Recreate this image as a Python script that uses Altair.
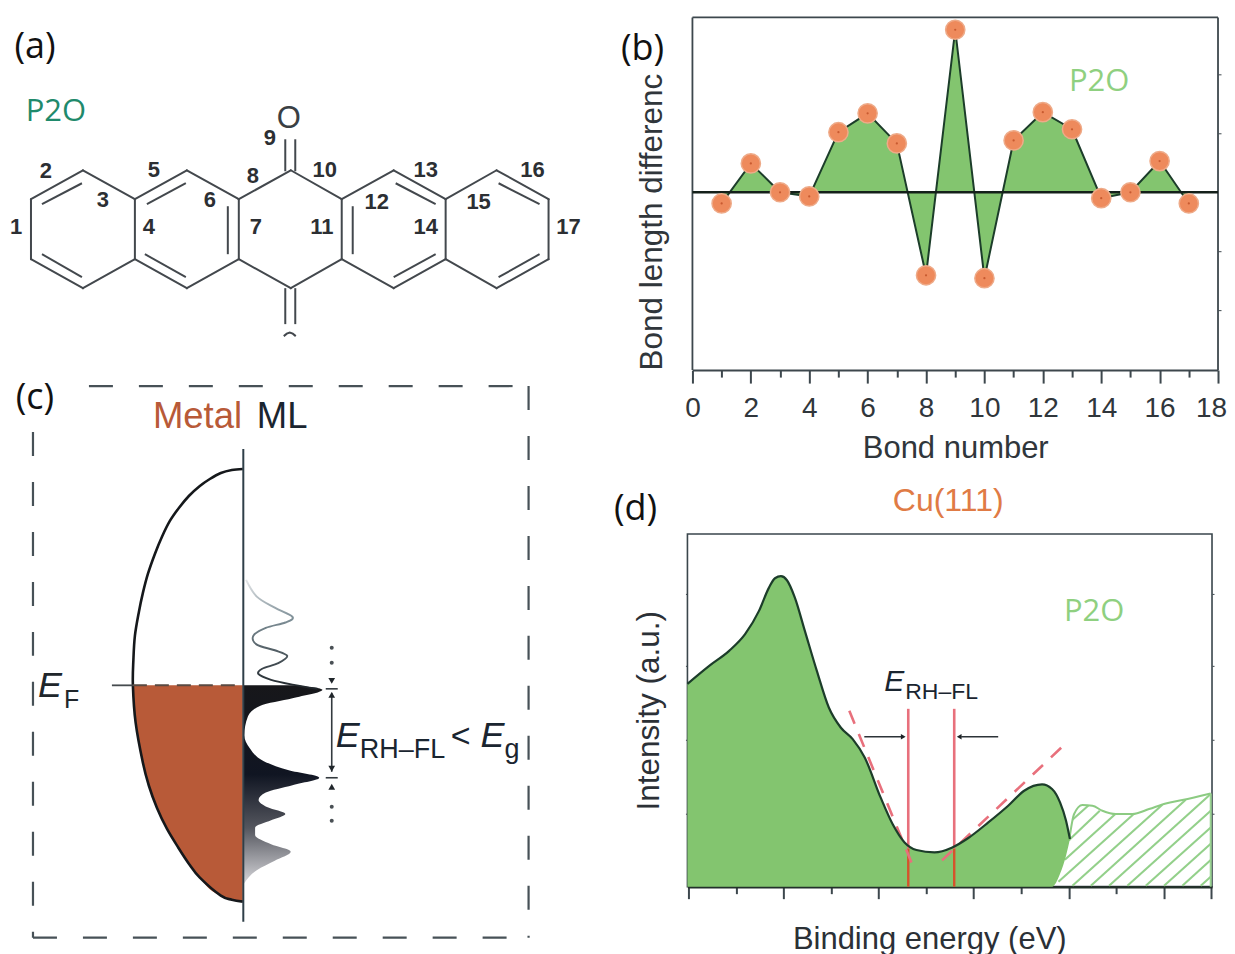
import altair as alt
import pandas as pd

SANS = "Arial"
OPEN = "Open Sans"
GREEN = "#83c56f"
LIGHT = "#8fd080"
DARK = "#1c3d2a"
AXIS = "#3d474d"
ORANGE = "#ee8a5c"
BRICK = "#b85a38"
PINK = "#e8707c"

# ---------- panel a: molecule, in drawing units ----------
ring_x = [31, 83, 135, 187, 239, 291, 342, 394, 446, 497, 549]
top_y = [198, 169, 198, 169, 198, 169, 198, 169, 198, 169, 198]
bot_y = [258, 287, 258, 287, 258, 287, 258, 287, 258, 287, 258]
vert_x = [31, 135, 239, 342, 446, 549]
inner_bonds = [
    (42, 203, 82, 182), (42, 253, 82, 276), (147, 203, 186, 182), (145, 253, 186, 276),
    (228, 205, 228, 253), (353, 205, 353, 253), (396, 182, 436, 203), (394, 276, 436, 253),
    (499, 182, 540, 203), (499, 276, 540, 253),
    (285.5, 138, 285.5, 170), (295.5, 138, 295.5, 170),
    (285.5, 287, 285.5, 323), (295.5, 287, 295.5, 323),
]
cut_o_x = [284, 287, 290, 293, 296]
cut_o_y = [335, 332.5, 331.5, 332.5, 335]
bond_labels = ["1", "2", "3", "4", "5", "6", "7", "8", "9", "10", "11", "12", "13", "14", "15", "16", "17"]
bond_label_x = [16, 46, 103, 149, 154, 210, 256, 253, 270, 325, 322, 377, 426, 426, 479, 533, 569]
bond_label_y = [226, 170, 199, 226, 169, 199, 226, 175, 137, 169, 226, 201, 169, 226, 201, 169, 226]

# ---------- panel b ----------
bond_number = list(range(1, 18))
bond_diff = [-0.19, 0.49, 0.0, -0.07, 1.02, 1.34, 0.83, -1.41, 2.76, -1.46, 0.88, 1.36, 1.07, -0.10, 0.0, 0.53, -0.19]

# ---------- panel c: band diagram, in drawing units ----------
metal_x = [243, 232, 221, 210, 200, 189, 179, 170, 162, 155, 148, 143, 139, 135, 133.5, 133, 135.7, 143, 149, 157, 167, 178.5, 189, 200, 221, 232, 243]
metal_y = [468, 469, 472, 478, 485, 495, 507, 520, 536, 553, 573, 592, 611, 635, 659, 684.5, 721.5, 762, 785, 807, 828, 847, 863, 877, 895, 899, 901]
dos_up_x = [246.3, 257, 275, 292.7, 285.6, 266, 253.5, 257, 275, 287.4, 278.5, 262.4, 258.8, 271.3, 292.7, 317.7]
dos_up_y = [579, 595.7, 606.8, 616, 621.6, 627, 635, 643.8, 649.4, 655, 662.3, 667.9, 673.4, 679, 683.8, 688]
dos_fill_x = [295, 322.7, 292.7, 260.6, 248, 244.5, 250, 264, 289, 319.5, 292.7, 266, 258.8, 267.8, 285.6, 271.3,
              255.3, 255.3, 271.3, 291, 275, 257, 244.5]
dos_fill_y = [684.5, 689, 697.5, 704.9, 716, 734.5, 747.4, 760.4, 769.6, 777, 784.4, 791.8, 799.2, 806.6, 813.3,
              819.6, 827, 834.4, 843.6, 851, 860, 869.5, 882.5]
frame_segments = [(89, 385, 529, 385), (529, 385, 529, 937), (33, 937, 529, 937), (33, 431, 33, 937)]

# ---------- panel d ----------
curve_x = [0, 21.8, 41.7, 57.7, 71.6, 81.6, 87.6, 93.6, 99.6, 107.5, 117.5, 129.5, 141.5, 153.4, 165.4, 177.4, 193.3,
           205.3, 217.3, 229.2, 247.2, 265.1, 281.1, 301.1, 321, 337, 354.9, 364.9, 372.9, 378.9, 382.8]
curve_y = [203, 221, 236, 252.7, 276, 299.3, 308.7, 310.7, 306.7, 289.3, 256, 216, 179.3, 159.3, 147.7, 129.3, 89.3,
           62.7, 44.3, 36.7, 34.3, 39.3, 48.7, 64.3, 81, 96, 102.3, 97.7, 84.3, 66, 47.7]
curve_low = [0] * 27 + [0, 13, 31, 47.7]
tail_x = [382, 387, 395.3, 405.3, 415.3, 428.7, 445.3, 462, 478.7, 495.3, 523.7]
tail_y = [46, 72.7, 81.7, 81, 76, 72.7, 72.7, 77.7, 83.3, 86.7, 93.3]
hatch_lines = [
    (385.3, 67, 401.3, 81.3), (382, 46.7, 412.7, 76), (377.7, 27, 428.3, 72.7), (371.3, 5, 446.7, 72.7),
    (385.3, 1, 475.3, 82), (403.7, 1, 498.7, 87), (422, 1, 523.7, 92.7), (440.3, 1, 523.7, 76),
    (458.7, 1, 523.7, 59.3), (477, 1, 523.7, 43), (495.3, 1, 523.7, 26.7), (513.7, 1, 523.7, 10),
]
major_ticks_d = [1, 96, 191, 286, 382, 477, 524]
minor_ticks_d = [48.6, 144, 239, 334, 429]
y_ticks_d = [73, 147, 221, 293]
edge_lines = [221, 267]


def seg_df(rows):
    return pd.DataFrame(rows, columns=["x", "y", "x2", "y2"])


def panel_scales(xs, ys):
    def x(field="x", **kw):
        return alt.X(f"{field}:Q", scale=xs, axis=kw.pop("axis", None), title=kw.pop("title", None))

    def y(field="y", **kw):
        return alt.Y(f"{field}:Q", scale=ys, axis=kw.pop("axis", None), title=kw.pop("title", None))

    def segs(rows, color, width=2.0, dash=None, **kw):
        props = dict(color=color, strokeWidth=width, **kw)
        if dash:
            props["strokeDash"] = dash
        return alt.Chart(seg_df(rows)).mark_rule(**props).encode(
            x=x(), y=y(), x2=alt.X2("x2:Q"), y2=alt.Y2("y2:Q"))

    def text(label, px, py, size, color="#1b1f24", font=SANS, align="center", baseline="middle", **kw):
        df = pd.DataFrame({"x": [px], "y": [py], "t": [label]})
        return alt.Chart(df).mark_text(fontSize=size, color=color, font=font, align=align,
                                       baseline=baseline, **kw).encode(x=x(), y=y(), text="t:N")

    return x, y, segs, text


# ---------- scales ----------
draw_x = alt.Scale(domain=[8, 600], nice=False, zero=False)
a_y = alt.Scale(domain=[369, 16], nice=False, zero=False)
c_y = alt.Scale(domain=[886, 533], nice=False, zero=False)
b_x = alt.Scale(domain=[0, 18], range=[5, 531], nice=False, zero=False)
b_y = alt.Scale(domain=[-3.02, 2.97], nice=False, zero=False)
d_x = alt.Scale(domain=[0, 525], nice=False, zero=False)
d_y = alt.Scale(domain=[0, 353], nice=False, zero=False)

# ---------- panel a ----------
ax, ay, aseg, atext = panel_scales(draw_x, a_y)
perimeter = []
for i in range(len(ring_x) - 1):
    perimeter.append((ring_x[i], top_y[i], ring_x[i + 1], top_y[i + 1]))
    perimeter.append((ring_x[i], bot_y[i], ring_x[i + 1], bot_y[i + 1]))
for vx in vert_x:
    perimeter.append((vx, 198, vx, 258))
a_layers = [
    aseg(perimeter, "#43484d", 2.0, strokeCap="round"),
    aseg(inner_bonds, "#43484d", 2.0),
    alt.Chart(pd.DataFrame({"x": cut_o_x, "y": cut_o_y})).mark_line(color="#43484d", strokeWidth=2).encode(x=ax(), y=ay()),
    atext("(a)", 35, 46, 36, font=OPEN, color="#111"),
    atext("P2O", 56, 111, 31, color="#1f8a6c", font=OPEN),
    atext("O", 289, 118, 31, color="#3a3f44"),
]
for lab, lx, ly in zip(bond_labels, bond_label_x, bond_label_y):
    a_layers.append(atext(lab, lx, ly, 22, color="#2c2f33", fontWeight="bold"))
panel_a = alt.layer(*a_layers).properties(width=592, height=353)

# ---------- panel b ----------
bx, by, bseg, btext = panel_scales(b_x, b_y)
b_df = pd.DataFrame({"x": bond_number, "y": bond_diff, "zero": [0] * 17})
b_major = alt.Axis(orient="bottom", values=list(range(0, 19, 2)), grid=False, tickSize=13, tickWidth=2, tickColor=AXIS, domainColor=AXIS,
                   domainWidth=2, labelFont=SANS, labelFontSize=28, labelColor="#30363b", labelPadding=11,
                   labelOverlap=False, labelFlush=False, labelOffset=alt.expr("datum.value == 18 ? -7 : 0"),
                   title="Bond number", titleFont=SANS, titleFontSize=31,
                   titleFontWeight="normal", titleColor="#30363b", titlePadding=11, format="d")
b_minor = alt.Axis(orient="bottom", values=list(range(1, 18, 2)), grid=False, tickSize=7, tickWidth=2, tickColor=AXIS, domain=False,
                   labels=False, title=None)
b_left = alt.Axis(domain=False, ticks=False, labels=False, grid=False, title="Bond length differenc", titleFont=SANS,
                  titleFontSize=31.5, titleFontWeight="normal", titleColor="#30363b", titleAnchor="start", titlePadding=19)
b_right = alt.Axis(orient="right", values=[-2, -1, 1, 2], domain=False, labels=False, grid=False, tickSize=3,
                   tickColor=AXIS, title=None)
panel_b = alt.layer(
    alt.Chart(b_df).mark_area(color=GREEN).encode(x=bx(axis=b_major), y=by(axis=b_left), y2="zero:Q"),
    alt.Chart(b_df).mark_line(color=DARK, strokeWidth=2).encode(x=bx(axis=b_minor), y=by(axis=b_right)),
    bseg([(0, -3.02, 0, 2.97), (0, 2.97, 18, 2.97), (18, -3.02, 18, 2.97)], AXIS, 1.8),
    bseg([(0, 0, 18, 0)], "#14201a", 2.5),
    alt.Chart(b_df).mark_point(filled=True, size=370, color=ORANGE, opacity=1, stroke="#eeaa88", strokeWidth=1.5).encode(x=bx(), y=by()),
    alt.Chart(b_df).mark_point(filled=True, size=5, color="#c85a30", opacity=1).encode(x=bx(), y=by()),
    btext("P2O", 13.93, 1.88, 31, color=LIGHT, font=OPEN),
    btext("(b)", -1.71, 2.44, 36, font=OPEN, color="#111"),
).resolve_axis(x="independent", y="independent").properties(width=531, height=353)

# ---------- panel c ----------
cx, cy, cseg, ctext = panel_scales(draw_x, c_y)
metal_df = pd.DataFrame({"x": metal_x, "y": metal_y, "base": [243] * len(metal_x), "i": range(len(metal_x))})
metal_low = metal_df[metal_df.y >= 684.5]
up_df = pd.DataFrame({"x": dos_up_x, "y": dos_up_y, "i": range(len(dos_up_x))})
fill_df = pd.DataFrame({"x": dos_fill_x, "y": dos_fill_y, "base": [244] * len(dos_fill_x)})
fill_grad = alt.LinearGradient(gradient="linear", stops=[alt.GradientStop(offset=0, color="#17171a"),
                                          alt.GradientStop(offset=0.45, color="#101522"),
                                          alt.GradientStop(offset=0.72, color="#54565e"),
                                          alt.GradientStop(offset=1, color="#d4d4d8")],
                         x1=0, x2=0, y1=0, y2=1)
line_grad = alt.LinearGradient(gradient="linear", stops=[alt.GradientStop(offset=0, color="#e4e6e8"),
                                          alt.GradientStop(offset=0.35, color="#7f9098"),
                                          alt.GradientStop(offset=1, color="#20262b")],
                         x1=0, x2=0, y1=0, y2=1)
panel_c = alt.layer(
    cseg(frame_segments, "#475157", 2.2, dash=[24, 26]),
    alt.Chart(metal_low).mark_area(orient="horizontal", interpolate="monotone", color=BRICK).encode(
        x=cx(), x2=alt.X2("base:Q"), y=cy()),
    alt.Chart(fill_df).mark_area(orient="horizontal", interpolate="monotone", fill=fill_grad).encode(
        x=cx(), x2=alt.X2("base:Q"), y=cy()),
    alt.Chart(up_df).mark_line(interpolate="cardinal", stroke=line_grad, strokeWidth=2).encode(x=cx(), y=cy(), order="i:Q"),
    alt.Chart(metal_df).mark_line(interpolate="cardinal", color="#15181b", strokeWidth=2.6).encode(x=cx(), y=cy(), order="i:Q"),
    cseg([(112, 684.5, 133, 684.5)], "#454b4f", 1.8),
    cseg([(133, 684.5, 243, 684.5)], "#5a4a42", 2, dash=[14, 8]),
    cseg([(243.5, 448, 243.5, 921)], "#2f3f48", 2),
    cseg([(332, 692, 332, 771), (326, 688, 338, 688), (326, 777, 338, 777)], "#333a3f", 1.6),
    alt.Chart(pd.DataFrame({"x": [332, 332], "y": [680, 768]})).mark_point(shape="triangle-down", filled=True, size=45, color="#20262b", opacity=1).encode(x=cx(), y=cy()),
    alt.Chart(pd.DataFrame({"x": [332, 332], "y": [694, 786]})).mark_point(shape="triangle-up", filled=True, size=45, color="#20262b", opacity=1).encode(x=cx(), y=cy()),
    alt.Chart(pd.DataFrame({"x": [332, 332, 332, 332], "y": [647, 662, 806, 820]})).mark_point(shape="circle", filled=True, size=16, color="#4a5055", opacity=1).encode(x=cx(), y=cy()),
    ctext("(c)", 35, 397, 36, font=OPEN, color="#111"),
    ctext("Metal", 153, 427, 36.5, color=BRICK, align="left", baseline="alphabetic"),
    ctext("ML", 257, 427, 36.5, color="#1a2530", align="left", baseline="alphabetic"),
    ctext("E", 38, 696, 36, color="#20262b", align="left", baseline="alphabetic", fontStyle="italic"),
    ctext("F", 64, 707, 25, color="#20262b", align="left", baseline="alphabetic"),
    ctext("E", 336, 746, 36, color="#1a2530", align="left", baseline="alphabetic", fontStyle="italic"),
    ctext("RH–FL", 360, 757, 27, color="#1a2530", align="left", baseline="alphabetic"),
    ctext("<", 451, 746, 34, color="#1a2530", align="left", baseline="alphabetic"),
    ctext("E", 481, 746, 36, color="#1a2530", align="left", baseline="alphabetic", fontStyle="italic"),
    ctext("g", 505, 757, 27, color="#1a2530", align="left", baseline="alphabetic"),
).properties(width=592, height=353)

# ---------- panel d ----------
dx, dy, dseg, dtext = panel_scales(d_x, d_y)
curve_df = pd.DataFrame({"x": curve_x, "y": curve_y, "low": curve_low})
tail_df = pd.DataFrame({"x": tail_x, "y": tail_y})
d_major = alt.Axis(orient="bottom", values=major_ticks_d, grid=False, tickSize=12, tickWidth=2, tickColor=AXIS, domainColor="#22302a",
                   domainWidth=2.5, labels=False, title="Binding energy (eV)", titleFont=SANS, titleFontSize=31,
                   titleFontWeight="normal", titleColor="#2b3036", titleX=242, titleY=38)
d_minor = alt.Axis(orient="bottom", values=minor_ticks_d, grid=False, tickSize=7, tickWidth=2, tickColor=AXIS, domain=False,
                   labels=False, title=None)
d_left = alt.Axis(orient="left", values=y_ticks_d, grid=False, domain=False, labels=False, tickSize=2, tickColor=AXIS,
                  title="Intensity (a.u.)", titleFont=SANS, titleFontSize=31.5, titleFontWeight="normal",
                  titleColor="#2b3036", titlePadding=19)
d_right = alt.Axis(orient="right", values=y_ticks_d, grid=False, domain=False, labels=False, tickSize=2,
                   tickColor=AXIS, title=None)
panel_d = alt.layer(
    dseg(hatch_lines, "#93d08a", 2.1),
    alt.Chart(tail_df).mark_line(color="#8ccb82", strokeWidth=2, interpolate="monotone").encode(x=dx(axis=d_minor), y=dy(axis=d_right)),
    dseg([(523.7, 0, 523.7, 93.3)], "#9ad492", 2),
    alt.Chart(curve_df).mark_area(color=GREEN, interpolate="monotone").encode(x=dx(axis=d_major), y=dy(axis=d_left), y2="low:Q"),
    dseg([(edge_lines[0], 38, edge_lines[0], 178), (edge_lines[1], 38, edge_lines[1], 178)], PINK, 2.6),
    dseg([(edge_lines[0], 0, edge_lines[0], 38), (edge_lines[1], 0, edge_lines[1], 38)], "#d5532c", 2.4),
    dseg([(162, 176, 228, 15), (374, 139, 247, 19)], PINK, 2.6, dash=[14, 11]),
    alt.Chart(curve_df).mark_line(color=DARK, strokeWidth=2.2, interpolate="monotone").encode(x=dx(), y=dy()),
    dseg([(177, 150, 214, 150), (311, 150, 274, 150)], "#2c3338", 1.5),
    alt.Chart(pd.DataFrame({"x": [216], "y": [150]})).mark_point(shape="triangle-right", filled=True, size=30, color="#1d2226", opacity=1).encode(x=dx(), y=dy()),
    alt.Chart(pd.DataFrame({"x": [272], "y": [150]})).mark_point(shape="triangle-left", filled=True, size=30, color="#1d2226", opacity=1).encode(x=dx(), y=dy()),
    dtext("Cu(111)", 261, 386, 32, color="#e07b45"),
    dtext("P2O", 407, 275, 31, color=LIGHT, font=OPEN),
    dtext("(d)", -52, 378, 36, font=OPEN, color="#111"),
    dtext("E", 197, 196, 30, color="#1a2530", align="left", baseline="alphabetic", fontStyle="italic"),
    dtext("RH–FL", 218, 188, 23, color="#1a2530", align="left", baseline="alphabetic"),
).resolve_axis(x="independent", y="independent").properties(
    width=525, height=353, view=alt.ViewBackground(stroke="#3a464c", strokeWidth=1.6))

chart = alt.concat(panel_a, panel_b, panel_c, panel_d, columns=2, bounds="flush", align="each",
                   spacing={"column": 88, "row": 164}
                   ).properties(padding={"left": 0, "top": 8, "right": 0, "bottom": 0}
                   ).configure_view(stroke=None)

chart.save("out.html", embed_options={"renderer": "svg", "actions": False})
